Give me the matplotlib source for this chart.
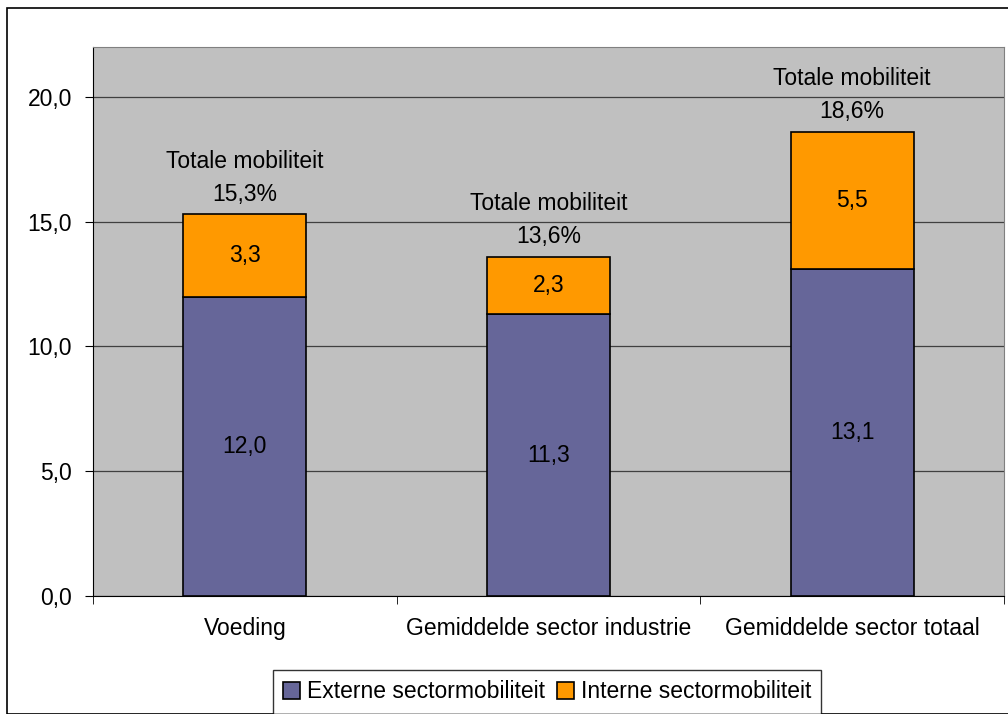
import numpy as np
import matplotlib
matplotlib.use("Agg")
import matplotlib.pyplot as plt
from matplotlib.patches import Rectangle

categories = ["Voeding", "Gemiddelde sector industrie", "Gemiddelde sector totaal"]
externe = [12.0, 11.3, 13.1]
interne = [3.3, 2.3, 5.5]
totaal = [15.3, 13.6, 18.6]

plt.rcParams["font.family"] = ["Liberation Sans", "DejaVu Sans"]
fs = 16.5

fig = plt.figure(figsize=(10.08, 7.14), dpi=100)
fig.patches.append(Rectangle((7 / 1008, 0), 1.1, 1 - 8 / 714, transform=fig.transFigure,
                             fill=False, edgecolor="black", linewidth=1.2))
ax = fig.add_axes([93 / 1008, 118 / 714, 911 / 1008, 549 / 714])
ax.set_facecolor("#C0C0C0")

x = np.arange(len(categories))
w = 0.405
b1 = ax.bar(x, externe, w, color="#666699", edgecolor="black", linewidth=1.2,
            label="Externe sectormobiliteit", zorder=3)
b2 = ax.bar(x, interne, w, bottom=externe, color="#FF9900", edgecolor="black", linewidth=1.2,
            label="Interne sectormobiliteit", zorder=3)

for i in range(len(categories)):
    ax.text(x[i], externe[i] / 2, f"{externe[i]:.1f}".replace(".", ","),
            ha="center", va="center", fontsize=fs, zorder=4)
    ax.text(x[i], externe[i] + interne[i] / 2, f"{interne[i]:.1f}".replace(".", ","),
            ha="center", va="center", fontsize=fs, zorder=4)
    ax.text(x[i], totaal[i] + 0.8, f"{totaal[i]:.1f}%".replace(".", ","),
            ha="center", va="center", fontsize=fs, zorder=4)
    ax.text(x[i], totaal[i] + 2.12, "Totale mobiliteit",
            ha="center", va="center", fontsize=fs, zorder=4)

ax.set_xlim(-0.5, 2.5)
ax.set_ylim(0, 22)
ax.set_yticks([0, 5, 10, 15, 20])
ax.set_yticklabels(["0,0", "5,0", "10,0", "15,0", "20,0"], fontsize=fs)
ax.yaxis.grid(True, color="#404040", linewidth=0.9, zorder=1)
ax.set_xticks(x)
ax.set_xticklabels(categories, fontsize=fs)
ax.tick_params(axis="x", length=0, pad=15)
ax.set_xticks([-0.5, 0.5, 1.5, 2.5], minor=True)
ax.tick_params(axis="x", which="minor", length=6, color="black")
ax.tick_params(axis="y", length=6, pad=9)
for s in ["top", "right"]:
    ax.spines[s].set_color("#808080")
for s in ["left", "bottom"]:
    ax.spines[s].set_color("black")

fig.legend(handles=[b1, b2], loc="center", bbox_to_anchor=(547 / 1008, 1 - 692 / 714),
           ncol=2, fontsize=fs, frameon=True, fancybox=False, edgecolor="black",
           handlelength=0.75, handleheight=0.75, handletextpad=0.3, columnspacing=0.5,
           borderpad=0.45)

plt.savefig("out.png", dpi=100)
